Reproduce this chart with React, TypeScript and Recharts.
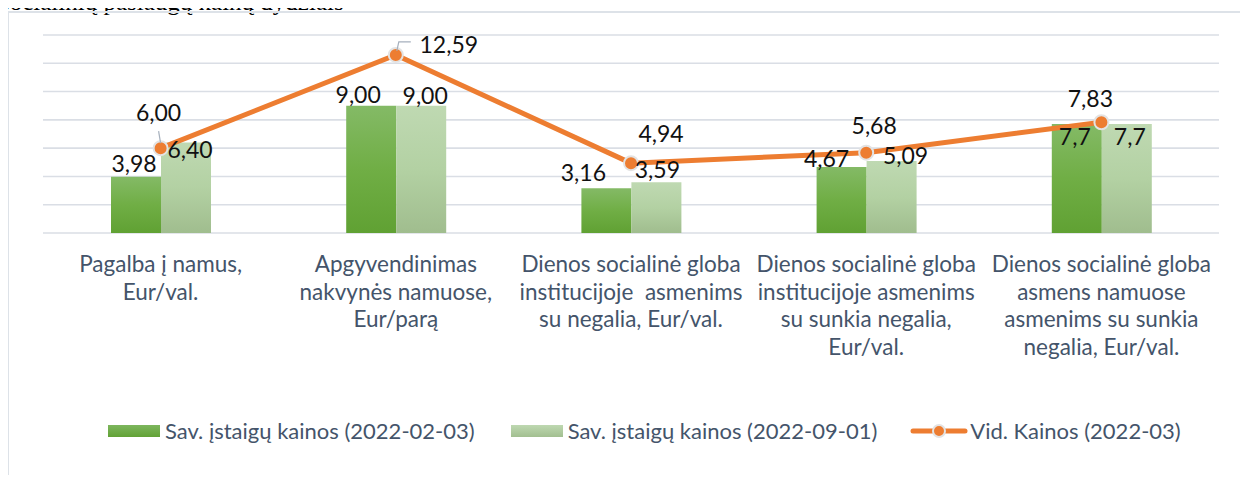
import React from 'react';
import { ComposedChart, Bar, Line, XAxis, YAxis, CartesianGrid, Legend, LabelList } from 'recharts';

const categories = [
  'Pagalba į namus,\nEur/val.',
  'Apgyvendinimas\nnakvynės namuose,\nEur/parą',
  'Dienos socialinė globa\ninstitucijoje  asmenims\nsu negalia, Eur/val.',
  'Dienos socialinė globa\ninstitucijoje asmenims\nsu sunkia negalia,\nEur/val.',
  'Dienos socialinė globa\nasmens namuose\nasmenims su sunkia\nnegalia, Eur/val.',
];
const pricesFeb = [3.98, 9.0, 3.16, 4.67, 7.7];
const pricesSep = [6.4, 9.0, 3.59, 5.09, 7.7];
const avgPrices = [6.0, 12.59, 4.94, 5.68, 7.83];
const labelsFeb = ['3,98', '9,00', '3,16', '4,67', '7,7'];
const labelsSep = ['6,40', '9,00', '3,59', '5,09', '7,7'];
const labelsAvg = ['6,00', '12,59', '4,94', '5,68', '7,83'];
const yTicks = [0, 2, 4, 6, 8, 10, 12, 14];

const seriesNames = [
  'Sav. įstaigų kainos (2022-02-03)',
  'Sav. įstaigų kainos (2022-09-01)',
  'Vid. Kainos (2022-03)',
];

const data = categories.map((name, i) => ({
  name,
  feb: pricesFeb[i],
  sep: pricesSep[i],
  avg: avgPrices[i],
}));

// label nudges (Excel had them hand-placed)
const febOffsets = [[-2, -14], [-13, -12], [-23, -16], [-15, -9], [-2, 12]];
const sepOffsets = [[4, 7], [4, -11], [1, -13], [14, -6], [3, 12]];
const avgOffsets = [[-2, -36], [53, -11], [30, -30], [8, -28], [-11, -24]];

const FONT = 'Lato, "Open Sans", sans-serif';
const ORANGE = '#ed7d31';
const TEXT = '#44546a';

const CategoryTick = ({ x, y, payload }: any) => {
  const lines = String(payload.value).split('\n');
  return (
    <g transform={`translate(${x},${y})`}>
      {lines.map((l, i) => (
        <text key={i} x={0} y={31 + i * 27.5} textAnchor="middle" fill={TEXT}
          fontSize={22.5} fontFamily={FONT} style={{ whiteSpace: 'pre' }}>
          {l}
        </text>
      ))}
    </g>
  );
};

const barLabel = (labels: string[], offsets: number[][]) => (props: any) => {
  const { x, y, width, index } = props;
  const [dx, dy] = offsets[index];
  return (
    <text x={x + width / 2 + dx} y={y + dy} textAnchor="middle" dominantBaseline="central"
      fontSize={23} fontFamily={FONT} fill="#111">
      {labels[index]}
    </text>
  );
};

const avgLabel = (props: any) => {
  const { x, y, index } = props;
  const [dx, dy] = avgOffsets[index];
  return (
    <g>
      {index === 0 && (
        <line x1={x - 2} y1={y - 17} x2={x} y2={y - 5} stroke="#a6b0bd" strokeWidth={1.2} />
      )}
      {index === 1 && (
        <polyline points={`${x + 1},${y - 4} ${x + 3},${y - 13} ${x + 15},${y - 13}`}
          fill="none" stroke="#a6b0bd" strokeWidth={1.2} />
      )}
      <text x={x + dx} y={y + dy} textAnchor="middle" dominantBaseline="central"
        fontSize={23} fontFamily={FONT} fill="#111">
        {labelsAvg[index]}
      </text>
    </g>
  );
};

const renderLegend = () => (
  <div style={{ display: 'flex', alignItems: 'center', fontFamily: FONT, fontSize: 22, color: TEXT, whiteSpace: 'nowrap' }}>
    <svg width={52} height={12} style={{ marginRight: 5 }}>
      <defs>
        <linearGradient id="gradDarkL" x1="0" y1="0" x2="0" y2="1">
          <stop offset="0%" stopColor="#7db65d" />
          <stop offset="100%" stopColor="#62a236" />
        </linearGradient>
      </defs>
      <rect width={52} height={12} fill="url(#gradDarkL)" />
    </svg>
    <span>{seriesNames[0]}</span>
    <svg width={52} height={12} style={{ marginLeft: 36, marginRight: 5 }}>
      <defs>
        <linearGradient id="gradLightL" x1="0" y1="0" x2="0" y2="1">
          <stop offset="0%" stopColor="#bed8b1" />
          <stop offset="100%" stopColor="#a2bf90" />
        </linearGradient>
      </defs>
      <rect width={52} height={12} fill="url(#gradLightL)" />
    </svg>
    <span>{seriesNames[1]}</span>
    <svg width={58} height={18} style={{ marginLeft: 33, marginRight: 2 }}>
      <line x1={3} y1={9} x2={55} y2={9} stroke={ORANGE} strokeWidth={5} strokeLinecap="round" />
      <circle cx={29} cy={9} r={6} fill={ORANGE} stroke="#e3e3e3" strokeWidth={2} />
    </svg>
    <span>{seriesNames[2]}</span>
  </div>
);

export default function App() {
  return (
    <div style={{ position: 'relative', width: 1248, height: 483, margin: -8, overflow: 'hidden', background: '#fff' }}>
      <div style={{ position: 'absolute', left: 0, top: -14, lineHeight: '32px', fontFamily: '"Liberation Serif", "Times New Roman", serif', fontSize: 25, whiteSpace: 'nowrap', color: '#000' }}>
        socialinių paslaugų kainų dydžiais
      </div>
      <div style={{ position: 'absolute', left: 7, top: 11, width: 1260, height: 480, borderLeft: '2px solid #dde2e8', borderTop: '2px solid #dde2e8' }} />
      <div style={{ position: 'absolute', left: 0, top: 0 }}>
        <ComposedChart width={1248} height={483} data={data} barGap={0}
          margin={{ top: 35, right: 29, left: 43, bottom: 100 }}>
          <defs>
            <linearGradient id="gradDark" x1="0" y1="0" x2="0" y2="1">
              <stop offset="0%" stopColor="#84ba66" />
              <stop offset="50%" stopColor="#70ae45" />
              <stop offset="100%" stopColor="#60a133" />
            </linearGradient>
            <linearGradient id="gradLight" x1="0" y1="0" x2="0" y2="1">
              <stop offset="0%" stopColor="#bfd9b2" />
              <stop offset="50%" stopColor="#b3d1a3" />
              <stop offset="100%" stopColor="#a0bd8e" />
            </linearGradient>
          </defs>
          <CartesianGrid vertical={false} stroke="#dadee5" strokeWidth={1.6} />
          <XAxis dataKey="name" axisLine={false} tickLine={false} height={150} interval={0} tick={<CategoryTick />} />
          <YAxis hide width={0} domain={[0, 14]} ticks={yTicks} />
          <Legend content={renderLegend} layout="horizontal" verticalAlign="middle"
            wrapperStyle={{ top: 417, left: 108, width: 'auto' }} />
          <Bar dataKey="feb" name={seriesNames[0]} fill="url(#gradDark)" barSize={50} isAnimationActive={false}>
            <LabelList dataKey="feb" content={barLabel(labelsFeb, febOffsets)} />
          </Bar>
          <Bar dataKey="sep" name={seriesNames[1]} fill="url(#gradLight)" barSize={50} isAnimationActive={false}>
            <LabelList dataKey="sep" content={barLabel(labelsSep, sepOffsets)} />
          </Bar>
          <Line dataKey="avg" name={seriesNames[2]} stroke={ORANGE} strokeWidth={5}
            dot={{ r: 7, fill: ORANGE, stroke: '#e3e3e3', strokeWidth: 2 }} activeDot={false}
            isAnimationActive={false}>
            <LabelList dataKey="avg" content={avgLabel} />
          </Line>
        </ComposedChart>
      </div>
    </div>
  );
}
